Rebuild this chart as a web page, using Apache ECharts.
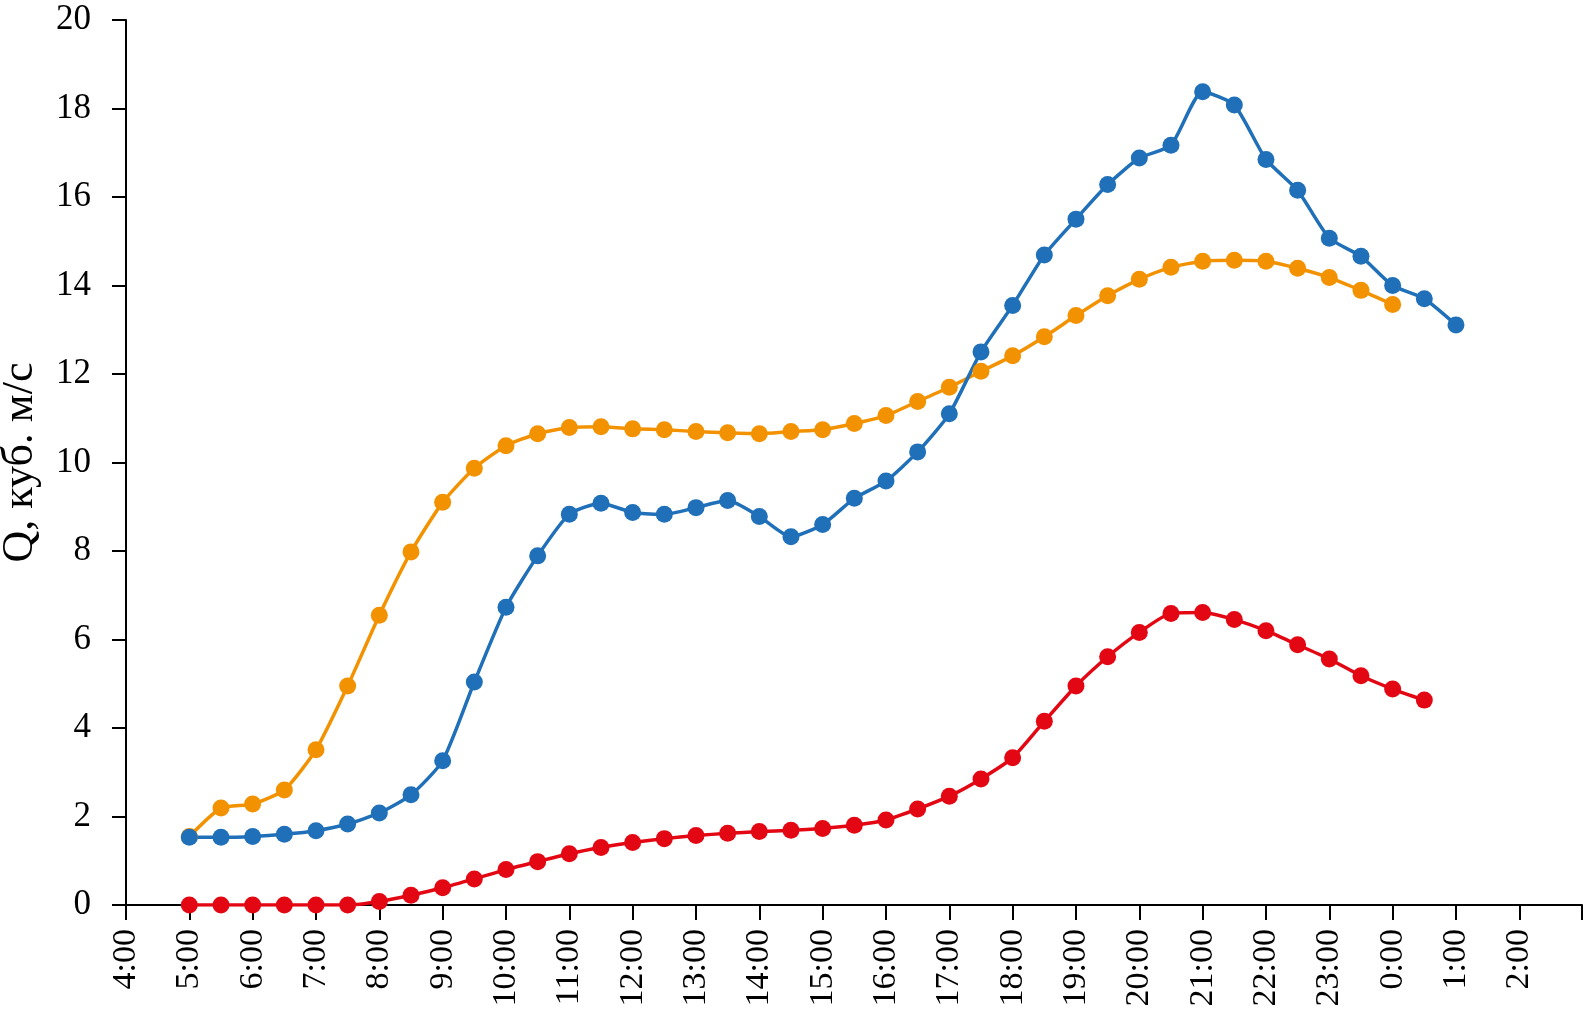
<!DOCTYPE html>
<html>
<head>
<meta charset="utf-8">
<script src="https://cdn.jsdelivr.net/npm/echarts@6/dist/echarts.min.js"></script>
<style>
html,body{margin:0;padding:0;background:#fff;overflow:hidden;}
#c{width:1583px;height:1009px;}
</style>
</head>
<body>
<div id="c"></div>
<script>
// Half-hour time stamps (5:00 of one day through 1:00 of the next)
var times = ["5:00","5:30","6:00","6:30","7:00","7:30","8:00","8:30","9:00","9:30",
  "10:00","10:30","11:00","11:30","12:00","12:30","13:00","13:30","14:00","14:30",
  "15:00","15:30","16:00","16:30","17:00","17:30","18:00","18:30","19:00","19:30",
  "20:00","20:30","21:00","21:30","22:00","22:30","23:00","23:30","0:00","0:30","1:00"];

// Tick labels of the time axis
var tickLabels = ["4:00","5:00","6:00","7:00","8:00","9:00","10:00","11:00","12:00","13:00",
  "14:00","15:00","16:00","17:00","18:00","19:00","20:00","21:00","22:00","23:00","0:00","1:00","2:00"];

// Blue series (5:00 .. 1:00)
var blueValues = [1.53,1.53,1.55,1.60,1.68,1.83,2.08,2.49,3.26,5.04,6.73,7.89,8.83,9.08,8.87,8.83,
  8.98,9.14,8.78,8.32,8.60,9.19,9.58,10.24,11.10,12.50,13.55,14.69,15.50,16.28,16.88,17.17,
  18.38,18.08,16.85,16.15,15.07,14.66,14.00,13.70,13.11];

// Orange series (5:00 .. 0:00)
var orangeValues = [1.55,2.19,2.28,2.60,3.51,4.95,6.55,7.98,9.10,9.87,10.38,10.65,10.79,10.81,
  10.76,10.74,10.70,10.67,10.65,10.70,10.74,10.88,11.06,11.38,11.70,12.06,12.41,12.84,13.32,
  13.77,14.14,14.41,14.55,14.57,14.55,14.39,14.18,13.89,13.57];

// Red series (5:00 .. 0:30)
var redValues = [0,0,0,0,0,0,0.08,0.22,0.39,0.59,0.80,0.98,1.16,1.30,1.41,1.50,1.57,1.62,1.66,
  1.69,1.73,1.80,1.92,2.17,2.46,2.85,3.33,4.15,4.95,5.61,6.16,6.59,6.61,6.45,6.20,5.88,5.56,
  5.18,4.88,4.63];

function toHours(s) {
  var p = s.split(":");
  var h = parseInt(p[0], 10) + parseInt(p[1], 10) / 60;
  if (h < 4) h += 24;
  return h;
}
function pairs(vals) {
  return vals.map(function (v, i) { return [toHours(times[i]), v]; });
}
var tickMap = {};
tickLabels.forEach(function (t) { tickMap[Math.round(toHours(t))] = t; });

var FONT = "Liberation Serif";
var chart = echarts.init(document.getElementById('c'), null, {renderer: 'canvas'});

function lineSeries(name, color, vals) {
  return {
    name: name,
    type: 'line',
    data: pairs(vals),
    smooth: 0.2,
    symbol: 'circle',
    symbolSize: 17,
    showAllSymbol: true,
    lineStyle: {color: color, width: 3.5},
    itemStyle: {color: color},
    emphasis: {disabled: true},
    animation: false
  };
}

chart.setOption({
  backgroundColor: '#fff',
  animation: false,
  grid: {left: 126, right: 1, top: 20, bottom: 104, containLabel: false, outerBoundsMode: 'none'},
  xAxis: {
    type: 'value',
    min: 4,
    max: 26.99,
    interval: 1,
    splitLine: {show: false},
    axisLine: {show: true, onZero: false, lineStyle: {color: '#000', width: 2}},
    axisTick: {show: true, inside: false, length: 15, lineStyle: {color: '#000', width: 2}},
    axisLabel: {
      rotate: 90,
      margin: 24,
      color: '#000',
      fontFamily: FONT,
      fontSize: 34,
      formatter: function (v) { return tickMap[Math.round(v)] || ''; }
    }
  },
  yAxis: {
    type: 'value',
    min: 0,
    max: 20,
    interval: 2,
    name: 'Q, куб. м/с',
    nameLocation: 'middle',
    nameRotate: 90,
    nameGap: 84,
    nameTextStyle: {color: '#000', fontFamily: FONT, fontSize: 44},
    splitLine: {show: false},
    axisLine: {show: true, lineStyle: {color: '#000', width: 2}},
    axisTick: {show: true, inside: false, length: 14, lineStyle: {color: '#000', width: 2}},
    axisLabel: {margin: 35, color: '#000', fontFamily: FONT, fontSize: 35}
  },
  series: [
    lineSeries('orange', '#F39200', orangeValues),
    lineSeries('blue', '#1F70B8', blueValues),
    lineSeries('red', '#E30613', redValues)
  ]
});
</script>
</body>
</html>
